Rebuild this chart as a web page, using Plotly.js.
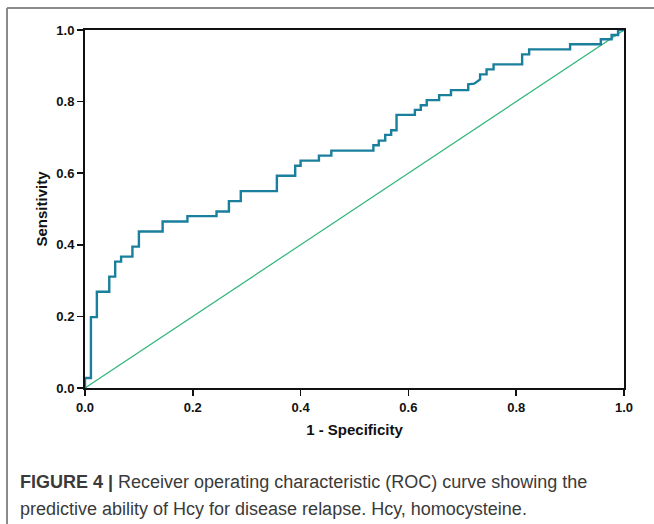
<!DOCTYPE html>
<html>
<head>
<meta charset="utf-8">
<script src="https://cdn.plot.ly/plotly-3.0.1.min.js"></script>
<style>
  html, body { margin: 0; padding: 0; background: #ffffff; }
  #chart { width: 654px; height: 524px; }
</style>
</head>
<body>
<div id="chart"></div>
<script>
// ROC curve vertices (1 - specificity, sensitivity)
const fpr = [0.000, 0.000, 0.011, 0.011, 0.022, 0.022, 0.045, 0.045, 0.056, 0.056,
             0.067, 0.067, 0.088, 0.088, 0.100, 0.100, 0.144, 0.144, 0.190, 0.190,
             0.244, 0.244, 0.267, 0.267, 0.289, 0.289, 0.356, 0.356, 0.390, 0.390,
             0.400, 0.400, 0.434, 0.434, 0.457, 0.457, 0.535, 0.535, 0.545, 0.545,
             0.557, 0.557, 0.568, 0.568, 0.578, 0.578, 0.612, 0.612, 0.623, 0.623,
             0.634, 0.634, 0.657, 0.657, 0.679, 0.679, 0.711, 0.711, 0.722, 0.733,
             0.733, 0.745, 0.745, 0.758, 0.758, 0.811, 0.811, 0.824, 0.824, 0.900,
             0.900, 0.957, 0.957, 0.977, 0.977, 0.989, 0.989, 1.000];
const tpr = [0.000, 0.028, 0.028, 0.198, 0.198, 0.269, 0.269, 0.311, 0.311, 0.353,
             0.353, 0.367, 0.367, 0.395, 0.395, 0.437, 0.437, 0.465, 0.465, 0.480,
             0.480, 0.493, 0.493, 0.522, 0.522, 0.550, 0.550, 0.593, 0.593, 0.621,
             0.621, 0.635, 0.635, 0.649, 0.649, 0.663, 0.663, 0.678, 0.678, 0.691,
             0.691, 0.707, 0.707, 0.720, 0.720, 0.763, 0.763, 0.777, 0.777, 0.790,
             0.790, 0.804, 0.804, 0.818, 0.818, 0.832, 0.832, 0.848, 0.850, 0.862,
             0.876, 0.876, 0.890, 0.890, 0.904, 0.904, 0.932, 0.932, 0.946, 0.946,
             0.960, 0.960, 0.974, 0.974, 0.986, 0.986, 1.000, 1.000];
// Reference (chance) line
const refX = [0, 1];
const refY = [0, 1];
const tickVals = [0, 0.2, 0.4, 0.6, 0.8, 1.0];
const tickText = ["0.0", "0.2", "0.4", "0.6", "0.8", "1.0"];
const xTitle = "1 - Specificity";
const yTitle = "Sensitivity";
const captionBold = "FIGURE 4 |";
const captionLine1 = " Receiver operating characteristic (ROC) curve showing the";
const captionLine2 = "predictive ability of Hcy for disease relapse. Hcy, homocysteine.";

const W = 654, H = 524;
const L = 85, R = 30, T = 30, B = 136;
const pw = W - L - R, ph = H - T - B;
const px = v => (v - L) / pw;       // pixel x -> paper x
const py = v => (H - B - v) / ph;   // pixel y -> paper y

const traces = [
  { x: refX, y: refY, mode: 'lines', type: 'scatter',
    line: { color: '#2fb67a', width: 1.2 }, hoverinfo: 'skip', showlegend: false },
  { x: fpr, y: tpr, mode: 'lines', type: 'scatter',
    line: { color: '#1a7f9c', width: 2.4 }, showlegend: false }
];

const axisCommon = {
  range: [0, 1], tickvals: tickVals, ticktext: tickText,
  ticks: 'outside', ticklen: 6, tickwidth: 1.5, tickcolor: '#111',
  showline: true, linecolor: '#111', linewidth: 2, mirror: true,
  showgrid: false, zeroline: false,
  tickfont: { family: 'Liberation Sans, Arial, sans-serif', size: 13, color: '#111', weight: 'bold' }
};

const layout = {
  width: W, height: H,
  margin: { l: L, r: R, t: T, b: B, pad: 0 },
  paper_bgcolor: '#ffffff', plot_bgcolor: '#ffffff',
  showlegend: false,
  xaxis: Object.assign({}, axisCommon, {
    title: { text: '<b>' + xTitle + '</b>', standoff: 11,
      font: { family: 'Liberation Sans, Arial, sans-serif', size: 15, color: '#111' } }
  }),
  yaxis: Object.assign({}, axisCommon, {
    title: { text: '<b>' + yTitle + '</b>', standoff: 5,
      font: { family: 'Liberation Sans, Arial, sans-serif', size: 15, color: '#111' } }
  }),
  shapes: [
    { type: 'line', xref: 'paper', yref: 'paper', x0: px(7), x1: px(7), y0: py(8), y1: py(524),
      line: { color: '#8a8a8a', width: 2 } },
    { type: 'line', xref: 'paper', yref: 'paper', x0: px(7), x1: px(654), y0: py(8), y1: py(8),
      line: { color: '#8a8a8a', width: 2 } }
  ],
  annotations: [
    { xref: 'paper', yref: 'paper', x: px(18), y: py(482), xanchor: 'left', yanchor: 'middle',
      showarrow: false, align: 'left',
      text: '<b>' + captionBold + '</b>' + captionLine1,
      font: { family: 'Liberation Sans, Arial, sans-serif', size: 18, color: '#3a3a3a' } },
    { xref: 'paper', yref: 'paper', x: px(18), y: py(509), xanchor: 'left', yanchor: 'middle',
      showarrow: false, align: 'left',
      text: captionLine2,
      font: { family: 'Liberation Sans, Arial, sans-serif', size: 18, color: '#3a3a3a' } }
  ]
};

Plotly.newPlot('chart', traces, layout, { displayModeBar: false, staticPlot: true });
</script>
</body>
</html>
